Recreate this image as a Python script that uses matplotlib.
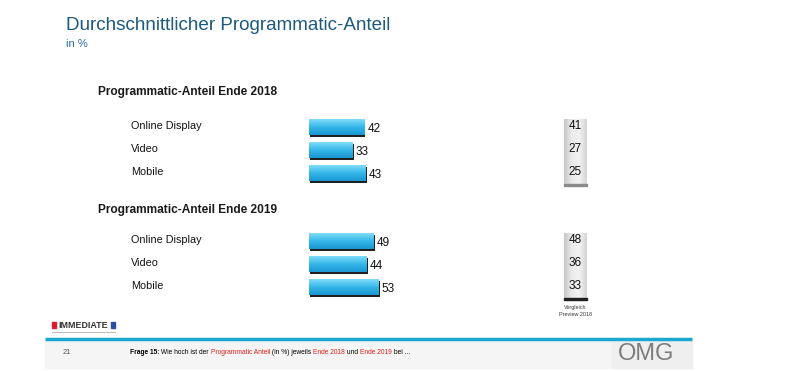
import numpy as np
import matplotlib
matplotlib.use('Agg')
import matplotlib.pyplot as plt
from matplotlib.patches import Rectangle

plt.rcParams['font.family'] = ['Liberation Sans', 'DejaVu Sans']

categories = ['Online Display', 'Video', 'Mobile']
share_2018 = [42, 33, 43]
share_2019 = [49, 44, 53]
preview_2018 = [41, 27, 25]
preview_2019 = [48, 36, 33]

W, H = 797, 371
fig = plt.figure(figsize=(W / 100, H / 100), dpi=100)
fig.patch.set_facecolor('white')

# background axes in pixel coordinates for text and decoration
bg = fig.add_axes([0, 0, 1, 1])
bg.set_xlim(0, W)
bg.set_ylim(H, 0)
bg.axis('off')

bg.text(66, 25, 'Durchschnittlicher Programmatic-Anteil', fontsize=13.6,
        color='#1c5a80', va='center', ha='left')
bg.text(66, 44, 'in %', fontsize=8, color='#2a6fa0', va='center', ha='left')

grad_bar = np.linspace(0, 1, 50).reshape(-1, 1)
bar_cmap = matplotlib.colors.LinearSegmentedColormap.from_list(
    'bar', ['#7fdcf8', '#35b7e8', '#1a97d2'])
box_cmap = matplotlib.colors.LinearSegmentedColormap.from_list(
    'box', ['#c8c8c8', '#ebebeb', '#f2f2f2', '#d6d6d6'])


def group(top_px, head_px, heading, values, preview, shadow):
    bg.text(98, head_px, heading, fontsize=8.6, fontweight='bold',
            color='#1a1a1a', va='center', ha='left')
    # bar axes: rows of 23 px, 1.31 px per percent
    ax = fig.add_axes([309 / W, 1 - (top_px + 69) / H, 131 / W, 69 / H])
    ax.axis('off')
    n = len(values)
    y = np.arange(n)
    h = 0.68
    ax.barh(y + 0.06, [v + 0.4 for v in values], left=0.6, height=h,
            color='#202020', zorder=1)
    bars = ax.barh(y, values, height=h, color='#35b7e8', zorder=2)
    for b in bars:
        x0, y0 = b.get_x(), b.get_y()
        ax.imshow(grad_bar, cmap=bar_cmap, aspect='auto', zorder=3,
                  extent=(x0, x0 + b.get_width(), y0 + b.get_height(), y0))
    for yi, v in zip(y, values):
        ax.text(v + 2.6, yi + 0.05, str(v), fontsize=8.5, color='#111111',
                va='center', ha='left')
    ax.set_xlim(0, 100)
    ax.set_ylim(n - 0.5, -0.5)
    for yi, c in zip(y, categories):
        bg.text(131, top_px + 11 + 23 * yi - 1, c, fontsize=7.8,
                color='#111111', va='center', ha='left')
    # comparison box
    bt, bh = top_px + 3, 66
    bg.add_patch(Rectangle((564, bt + bh - 1), 23, 2, color=shadow,
                           zorder=2))
    bg.imshow(np.linspace(0, 1, 30).reshape(1, -1), cmap=box_cmap,
              aspect='auto', extent=(564, 587, bt + bh, bt), zorder=1)
    for yi, p in zip(y, preview):
        bg.text(575.5, top_px + 11 + 23 * yi - 1, str(p), fontsize=8.5,
                color='#111111', va='center', ha='center', zorder=3)


group(116, 92, 'Programmatic-Anteil Ende 2018', share_2018, preview_2018, '#8a8a8a')
group(230, 210, 'Programmatic-Anteil Ende 2019', share_2019, preview_2019, '#202020')

bg.text(575.5, 307, 'Vergleich', fontsize=3.9, color='#333333',
        ha='center', va='center')
bg.text(575.5, 314, 'Preview 2018', fontsize=3.9, color='#333333',
        ha='center', va='center')

# footer
bg.add_patch(Rectangle((45, 340), 647, 28, color='#f5f5f5', zorder=0))
bg.add_patch(Rectangle((612, 340), 80, 28, color='#efefef', zorder=0))
bg.plot([45, 692], [338.5, 338.5], color='#1aa7d6', lw=2.5,
        solid_capstyle='butt')
bg.text(63, 353, '21', fontsize=5.5, color='#555555', va='center')

parts = [('Frage 15:', 'black', 'bold'), (' Wie hoch ist der ', 'black', 'normal'),
         ('Programmatic Anteil', '#e0201a', 'normal'), (' (in %) jeweils ', 'black', 'normal'),
         ('Ende 2018', '#e0201a', 'normal'), (' und ', 'black', 'normal'),
         ('Ende 2019', '#e0201a', 'normal'), (' bei ...', 'black', 'normal')]
t = bg.text(130, 353, parts[0][0], fontsize=4.75, color=parts[0][1],
            fontweight=parts[0][2], va='center')
for s, col, fw in parts[1:]:
    t = bg.annotate(s, xy=(1, 0), xycoords=t, va='bottom', ha='left',
                    fontsize=4.75, color=col, fontweight=fw)

bg.text(646, 354, 'OMG', fontsize=17, color='#7c7c7c', ha='center',
        va='center')

# IMMEDIATE logo
bg.add_patch(Rectangle((52, 322), 4, 6, color='#d81e2a'))
bg.add_patch(Rectangle((111, 322), 4, 6, color='#2a4ea0'))
bg.text(83.5, 325, 'IMMEDIATE', fontsize=6.4, color='#333333',
        fontweight='bold', va='center', ha='center')
bg.plot([52, 115], [331.5, 331.5], color='#b0b0b0', lw=0.6)

fig.savefig('out.png', dpi=100)
